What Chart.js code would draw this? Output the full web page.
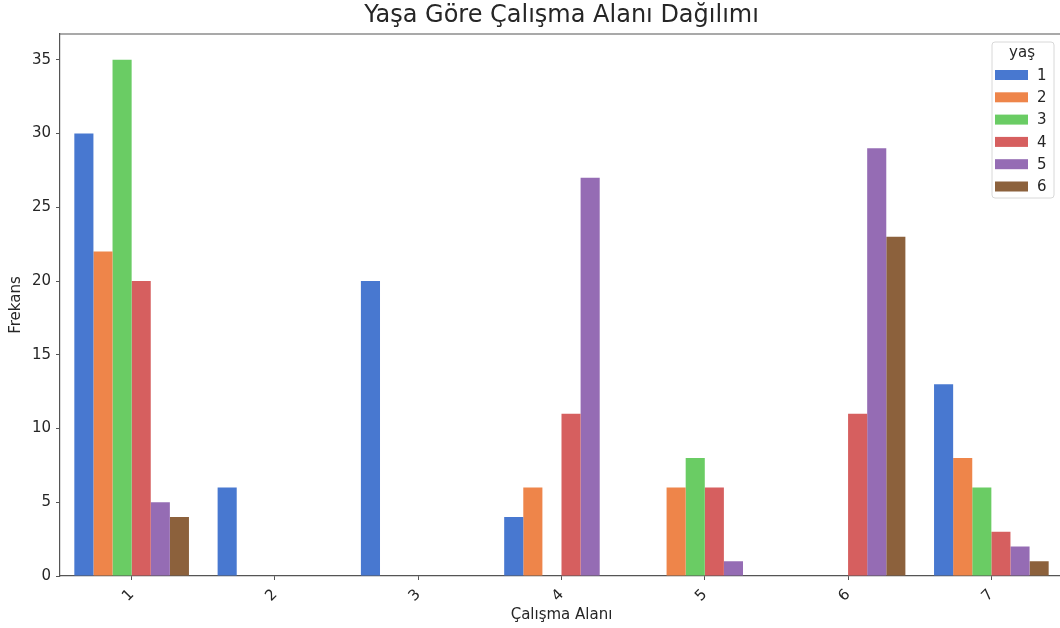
<!DOCTYPE html>
<html>
<head>
<meta charset="utf-8">
<script src="https://cdn.jsdelivr.net/npm/chart.js@4/dist/chart.umd.min.js"></script>
<style>
  html, body { margin: 0; padding: 0; background: #fff; overflow: hidden; }
  #wrap { width: 1060px; height: 628px; overflow: hidden; }
</style>
</head>
<body>
<div id="wrap"><canvas id="c" width="1070" height="628"></canvas></div>
<script>
const categories = ['1', '2', '3', '4', '5', '6', '7'];
const hueLabels = ['1', '2', '3', '4', '5', '6'];
const age1 = [30, 6, 20, 4, 0, 0, 13];
const age2 = [22, 0, 0, 6, 6, 0, 8];
const age3 = [35, 0, 0, 0, 8, 0, 6];
const age4 = [20, 0, 0, 11, 6, 11, 3];
const age5 = [5, 0, 0, 27, 1, 29, 2];
const age6 = [4, 0, 0, 0, 0, 23, 1];
const yTicks = [0, 5, 10, 15, 20, 25, 30, 35];

const colors = ['#4878d0', '#ee854a', '#6acc64', '#d65f5f', '#956cb4', '#8c613c'];
const series = [age1, age2, age3, age4, age5, age6];
const FONT = "'DejaVu Sans', sans-serif";

const frameAndLegend = {
  id: 'frameAndLegend',
  afterDraw(chart) {
    const ctx = chart.ctx;
    const a = chart.chartArea;
    ctx.save();
    ctx.strokeStyle = '#555';
    ctx.lineWidth = 1.2;
    ctx.beginPath();
    ctx.moveTo(a.left, a.top);
    ctx.lineTo(a.right, a.top);
    ctx.lineTo(a.right, a.bottom);
    ctx.stroke();

    // legend
    const lx = a.right - 71, ly = a.top + 8, lw = 62, lh = 156;
    ctx.fillStyle = 'rgba(255,255,255,0.85)';
    ctx.strokeStyle = '#d8d8d8';
    ctx.lineWidth = 1;
    ctx.beginPath();
    if (ctx.roundRect) ctx.roundRect(lx, ly, lw, lh, 3); else ctx.rect(lx, ly, lw, lh);
    ctx.fill();
    ctx.stroke();
    ctx.fillStyle = '#262626';
    ctx.font = "15px " + FONT;
    ctx.textAlign = 'center';
    ctx.textBaseline = 'middle';
    ctx.fillText('yaş', lx + 30, ly + 11);
    chart.data.datasets.forEach((ds, i) => {
      const ry = ly + 33 + i * 22.3;
      ctx.fillStyle = ds.backgroundColor;
      ctx.fillRect(lx + 3, ry - 5, 33, 10);
      ctx.fillStyle = '#262626';
      ctx.textAlign = 'left';
      ctx.font = "15px " + FONT;
      ctx.fillText(ds.label, lx + 45, ry + 1);
    });
    ctx.restore();
  }
};

new Chart(document.getElementById('c'), {
  type: 'bar',
  data: {
    labels: categories,
    datasets: series.map((vals, i) => ({
      label: hueLabels[i],
      data: vals,
      backgroundColor: colors[i],
      borderWidth: 0,
      categoryPercentage: 0.8,
      barPercentage: 1.0
    }))
  },
  options: {
    responsive: false,
    animation: false,
    layout: { padding: { left: 0, right: 7, top: 0, bottom: 0 } },
    plugins: {
      legend: { display: false },
      tooltip: { enabled: false },
      title: {
        display: true,
        fullSize: false,
        text: 'Yaşa Göre Çalışma Alanı Dağılımı',
        color: '#262626',
        font: { family: FONT, size: 24, weight: 'normal' },
        padding: { top: 1, bottom: 4.2 }
      }
    },
    scales: {
      x: {
        offset: true,
        grid: { display: true, drawOnChartArea: false, drawTicks: true, tickLength: 4, color: '#555', offset: false },
        border: { display: true, color: '#555', width: 1.2 },
        ticks: { color: '#262626', font: { family: FONT, size: 15 }, maxRotation: 45, minRotation: 45, padding: 6 },
        title: { display: true, text: 'Çalışma Alanı', color: '#262626', font: { family: FONT, size: 15 }, padding: { top: 0, bottom: 4 } },
        afterFit(scale) { scale.height = 52; }
      },
      y: {
        min: 0,
        max: 36.75,
        afterBuildTicks(scale) { scale.ticks = yTicks.map(v => ({ value: v })); },
        grid: { display: true, drawOnChartArea: false, drawTicks: true, tickLength: 4, color: '#555' },
        border: { display: true, color: '#555', width: 1.2 },
        ticks: { color: '#262626', font: { family: FONT, size: 15 }, padding: 5 },
        title: { display: true, text: 'Frekans', color: '#262626', font: { family: FONT, size: 15 }, padding: { top: 7, bottom: 0 } },
        afterFit(scale) { scale.width = 60; }
      }
    }
  },
  plugins: [frameAndLegend]
});
</script>
</body>
</html>
